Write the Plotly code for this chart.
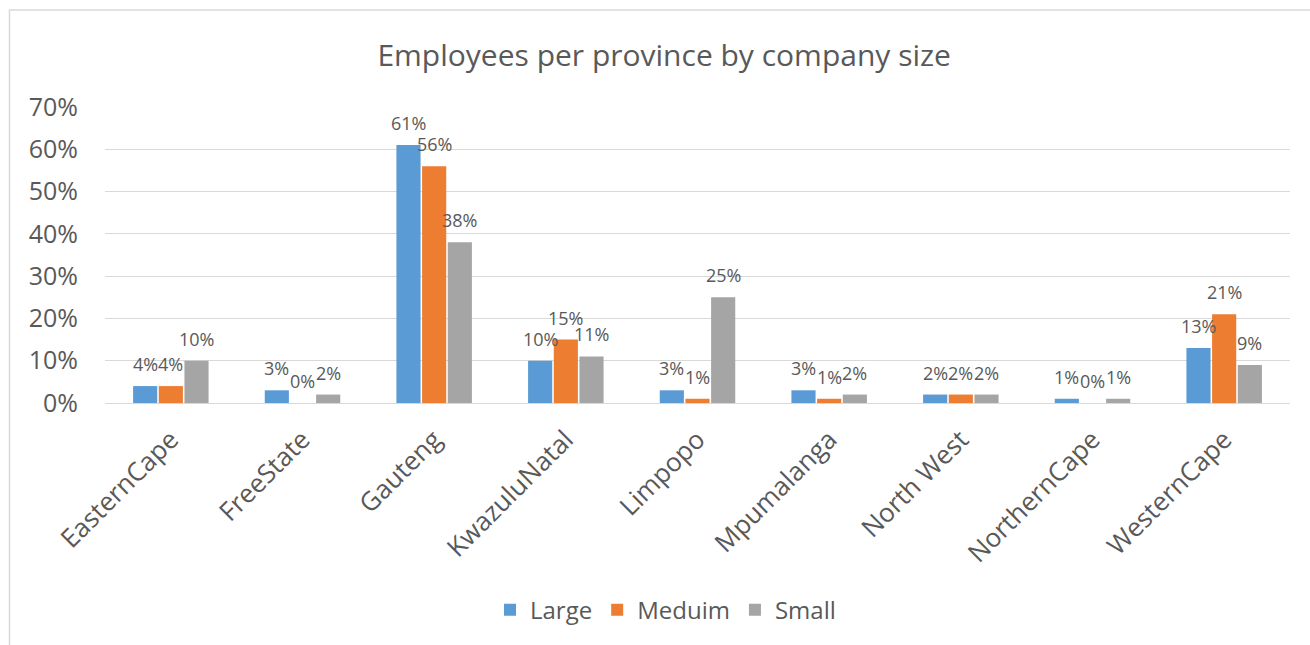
import plotly.graph_objects as go

provinces = ["EasternCape", "FreeState", "Gauteng", "KwazuluNatal", "Limpopo",
             "Mpumalanga", "North West", "NorthernCape", "WesternCape"]
large = [4, 3, 61, 10, 3, 3, 2, 1, 13]
medium = [4, 0, 56, 15, 1, 1, 2, 0, 21]
small = [10, 2, 38, 11, 25, 2, 2, 1, 9]

series = [("Large", large, "#5B9BD5"), ("Meduim", medium, "#ED7D31"), ("Small", small, "#A5A5A5")]
FONT = "Open Sans"
TXT = "#595959"

L, R, T, B = 105, 20, 107, 242
W, H = 1310, 645
BARGAP, GROUPGAP = 0.415, 0.06
plot_w = W - L - R
slot = plot_w / len(provinces) * (1 - BARGAP) / len(series)

fig = go.Figure()
annotations = []
for i, (name, vals, color) in enumerate(series):
    fig.add_trace(go.Bar(
        x=provinces, y=[v / 100 for v in vals], name=name,
        marker=dict(color=color, line=dict(color="white", width=0)),
        cliponaxis=False,
    ))
    shift = (i - (len(series) - 1) / 2) * slot
    for p, v in zip(provinces, vals):
        annotations.append(dict(
            x=p, y=v / 100, xref="x", yref="y", text=f"{v}%", showarrow=False,
            xanchor="center", yanchor="bottom", xshift=shift, yshift=9,
            borderpad=0,
            font=dict(family=FONT, size=18, color=TXT)))

x0 = (9.5 - L) / plot_w
y1 = 1 + (T - 10) / (H - T - B)
frame_path = f"M {x0},-1.5 L {x0},{y1} L 1.5,{y1}"

fig.update_layout(
    width=W, height=H,
    margin=dict(l=L, r=R, t=T, b=B),
    paper_bgcolor="white", plot_bgcolor="white",
    barmode="group", bargap=BARGAP, bargroupgap=GROUPGAP,
    title=dict(text="Employees per province by company size", x=0.507, xanchor="center",
               y=1 - 55 / H, yanchor="middle",
               font=dict(family=FONT, size=30, color=TXT)),
    font=dict(family=FONT, color=TXT),
    showlegend=True,
    legend=dict(orientation="h", x=0.473, xanchor="center", y=-0.70, yanchor="middle",
                font=dict(family=FONT, size=24, color=TXT), itemwidth=30),
    xaxis=dict(tickangle=-45, tickfont=dict(family=FONT, size=26, color=TXT),
               showline=True, linecolor="#D9D9D9", linewidth=1, ticks="",
               ticklabelstandoff=10),
    yaxis=dict(range=[0, 0.7], dtick=0.1, tickformat=".0%",
               tickfont=dict(family=FONT, size=25, color=TXT),
               gridcolor="#D9D9D9", gridwidth=1, zeroline=False, ticks="",
               ticklabelstandoff=26),
    annotations=annotations,
    shapes=[dict(type="path", xref="paper", yref="paper", path=frame_path,
                 line=dict(color="#D9D9D9", width=1.5), layer="below")],
)

fig.write_html("out.html")
